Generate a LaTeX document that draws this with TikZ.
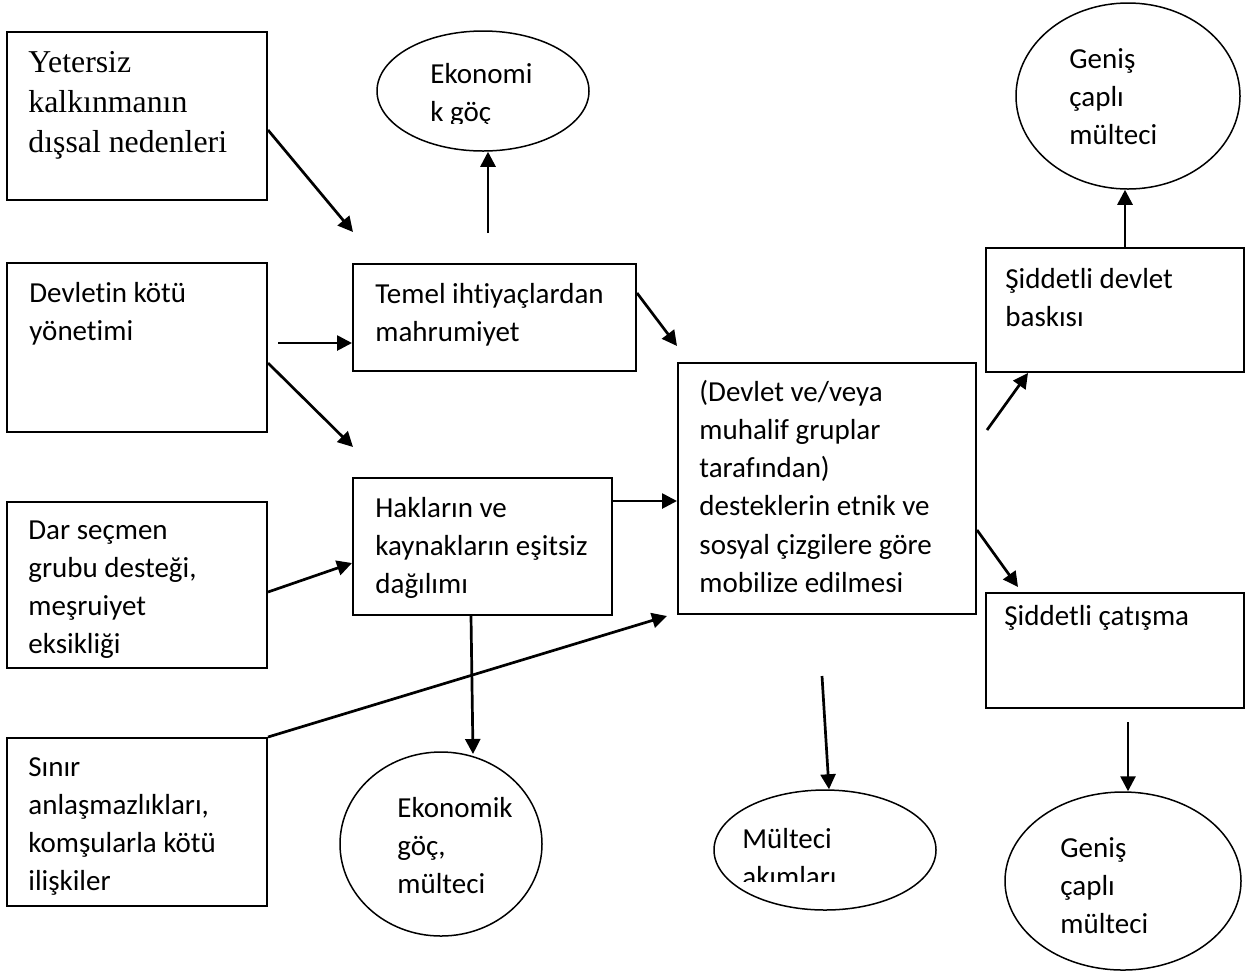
\documentclass[tikz,border=0pt]{standalone}
\usepackage{fontspec}
\setmainfont{Carlito}[Ligatures={NoCommon,NoContextual}]
\newfontfamily\timesfont{Liberation Serif}
\usetikzlibrary{shapes.geometric,arrows.meta,fit}
\newcommand{\lines}[1]{\parbox[t]{220pt}{\raggedright #1}}
\begin{document}
\begin{tikzpicture}[x=0.5pt,y=-0.5pt,
  boxnode/.style={draw, line width=1pt, inner sep=0pt, rectangle},
  ellnode/.style={draw, line width=0.75pt, ellipse, inner sep=0pt},
  txt/.style={anchor=base west, inner sep=0pt, font=\fontsize{14.5}{19.15}\selectfont},
  serif/.style={anchor=base west, inner sep=0pt, font=\timesfont\fontsize{15.9}{20}\selectfont},
  arr/.style={-{Triangle[length=7.5pt,width=7.5pt]}, line width=1.35pt}]
\useasboundingbox (0,0) rectangle (1251,971);
\fill[white] (0,0) rectangle (1251,971);

% boxes
\node[boxnode, fit={(7,32)(267,200)}] (b1) {};
\node[boxnode, fit={(7,263)(267,432)}] (b2) {};
\node[boxnode, fit={(7,502)(267,668)}] (b3) {};
\node[boxnode, fit={(7,738)(267,906)}] (b4) {};
\node[boxnode, fit={(353,264)(636,371)}] (b5) {};
\node[boxnode, fit={(353,478)(612,615)}] (b6) {};
\node[boxnode, fit={(678,363)(976,614)}] (b7) {};
\node[boxnode, fit={(986,248)(1244,372)}] (b8) {};
\node[boxnode, fit={(986,593)(1244,708)}] (b9) {};

% ellipses
\node[ellnode, minimum width=106pt, minimum height=60pt] (e1) at (483,91) {};
\node[ellnode, minimum width=112pt, minimum height=93pt] (e2) at (1128,96) {};
\node[ellnode, minimum width=101pt, minimum height=92pt] (e3) at (441,844) {};
\node[ellnode, minimum width=111pt, minimum height=60pt] (e4) at (825,850) {};
\node[ellnode, minimum width=118pt, minimum height=89pt] (e5) at (1123,881) {};

% texts
\node[serif] (t1) at (28,72) {\lines{Yetersiz\\kalkınmanın\\dışsal nedenleri}};
\node[txt] (t2) at (29,302) {\lines{Devletin kötü\\yönetimi}};
\node[txt] (t3) at (28,539) {\lines{Dar seçmen\\grubu desteği,\\meşruiyet\\eksikliği}};
\node[txt] (t4) at (28,776) {\lines{Sınır\\anlaşmazlıkları,\\komşularla kötü\\ilişkiler}};
\node[txt] (t5) at (375,303) {\lines{Temel ihtiyaçlardan\\mahrumiyet}};
\node[txt] (t6) at (375,517) {\lines{Hakların ve\\kaynakların eşitsiz\\dağılımı}};
\node[txt] (t7) at (699,401) {\lines{(Devlet ve/veya\\muhalif gruplar\\tarafından)\\desteklerin etnik ve\\sosyal çizgilere göre\\mobilize edilmesi}};
\node[txt] (t8) at (1005,288) {\lines{Şiddetli devlet\\baskısı}};
\node[txt] (t9) at (1004,625) {\lines{Şiddetli çatışma}};
\begin{scope}
  \clip (377,20) rectangle (589,123);
  \node[txt] (t10) at (430,83) {\lines{Ekonomi\\k göç}};
\end{scope}
\node[txt] (t11) at (1069,68) {\lines{Geniş\\çaplı\\mülteci}};
\node[txt] (t12) at (397,817) {\lines{Ekonomik\\göç,\\mülteci}};
\begin{scope}
  \clip (714,790) rectangle (937,881);
  \node[txt] (t13) at (742,848) {\lines{Mülteci\\akımları}};
\end{scope}
\node[txt] (t14) at (1060,857) {\lines{Geniş\\çaplı\\mülteci}};

% free ends
\coordinate (c1) at (353,232);
\coordinate (c2) at (488,233);
\coordinate (c3) at (278,343);
\coordinate (c4) at (353,447);
\coordinate (c6) at (677,346);
\coordinate (c8) at (667,616);
\coordinate (c9) at (473,754);
\coordinate (c10) at (822,676);
\coordinate (c11) at (987,430);
\coordinate (c13) at (1018,587);
\coordinate (c14) at (1128,722);

% connectors
\draw[arr] ([yshift=-7pt]b1.east) -- (c1);
\draw[arr] (c2) -- (c2 |- e1.south);
\draw[arr] (c3) -- (b5.west |- c3);
\draw[arr] ([yshift=-7.75pt]b2.east) -- (c4);
\draw[arr] ([yshift=-3.5pt]b3.east) -- ([yshift=-8.25pt]b6.west);
\draw[arr] ([yshift=12.25pt]b5.east) -- (c6);
\draw[arr] ([yshift=22.75pt]b6.east) -- ([yshift=-6.25pt]b7.west);
\draw[arr] (b4.north east) -- (c8);
\draw[arr] ([xshift=-5.75pt]b6.south) -- (c9);
\draw[arr] (c10) -- ([xshift=2pt]e4.north);
\draw[arr] (c11) -- ([xshift=-43.5pt]b8.south);
\draw[arr] ([xshift=5pt]b8.north) -- ([xshift=5pt]b8.north |- e2.south);
\draw[arr] ([yshift=-20.75pt]b7.east) -- (c13);
\draw[arr] (c14) -- (c14 |- e5.north);
\end{tikzpicture}
\end{document}
